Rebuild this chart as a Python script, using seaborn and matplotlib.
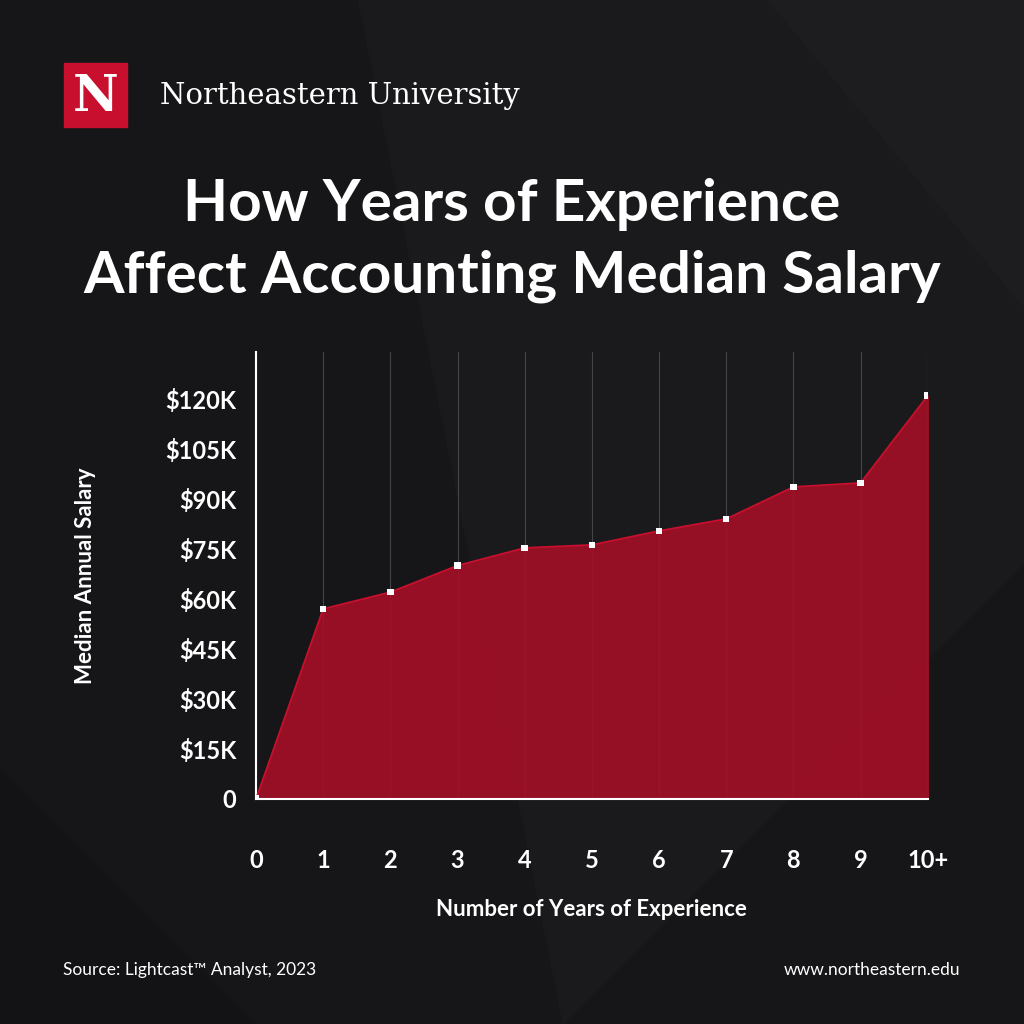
import matplotlib
matplotlib.use('Agg')
import matplotlib.pyplot as plt
import seaborn as sns
import pandas as pd
from matplotlib.patches import Rectangle, Polygon

# dados
anos = ['0', '1', '2', '3', '4', '5', '6', '7', '8', '9', '10+']
salario_k = [0, 57, 62, 70, 75.3, 76.2, 80.4, 84, 93.6, 94.8, 121]
ticks_y = [0, 15, 30, 45, 60, 75, 90, 105, 120]
rotulos_y = ['0', '$15K', '$30K', '$45K', '$60K', '$75K', '$90K', '$105K', '$120K']

df = pd.DataFrame({'pos': range(len(anos)), 'salario': salario_k})

sns.set_style('dark')
plt.rcParams['font.family'] = ['Lato', 'DejaVu Sans']

fig = plt.figure(figsize=(10.24, 10.24), dpi=100)
fig.patch.set_facecolor('#161618')

# fundo com faixas diagonais sutis
bg = fig.add_axes([0, 0, 1, 1])
bg.set_xlim(0, 1); bg.set_ylim(0, 1); bg.axis('off')
bg.add_patch(Polygon([(0.35, 1), (1, 1), (1, 0.45), (0.55, 0)], color='#1a1a1c', zorder=0))
bg.add_patch(Polygon([(0.75, 1), (1, 1), (1, 0.7)], color='#1d1d20', zorder=0))
bg.add_patch(Polygon([(0, 0.25), (0, 0), (0.25, 0)], color='#131315', zorder=0))
bg.add_patch(Rectangle((0.0625, 0.876), 0.062, 0.062, color='#c8102e'))
bg.text(0.0935, 0.905, 'N', color='white', fontsize=36, family='DejaVu Serif',
        weight='bold', ha='center', va='center')
bg.text(0.156, 0.906, 'Northeastern University', color='white', fontsize=21,
        family='DejaVu Serif', va='center')
bg.text(0.5, 0.8, 'How Years of Experience', color='white', fontsize=42,
        weight='bold', ha='center', va='center')
bg.text(0.5, 0.73, 'Affect Accounting Median Salary', color='white', fontsize=42,
        weight='bold', ha='center', va='center')
bg.text(0.062, 0.053, 'Source: Lightcast\u2122 Analyst, 2023', color='white', fontsize=12.5,
        va='center')
bg.text(0.938, 0.053, 'www.northeastern.edu', color='white', fontsize=12.5,
        ha='right', va='center')

ax = fig.add_axes([0.25, 0.22, 0.656, 0.436])
ax.set_facecolor('none')
ax.fill_between(df['pos'], df['salario'], color='#a50f27', alpha=0.9, zorder=2)
sns.lineplot(data=df, x='pos', y='salario', ax=ax, color='#c8102e', lw=1.2, zorder=3)
sns.scatterplot(data=df, x='pos', y='salario', ax=ax, color='white', marker='s',
                s=22, edgecolor='none', zorder=4)
for p in range(1, len(anos)):
    ax.axvline(p, color='#444448', lw=0.8, zorder=1)

ax.set_xlim(0, 10)
ax.set_ylim(0, 134)
ax.set_xticks(range(len(anos)))
ax.set_xticklabels(anos)
ax.set_yticks(ticks_y)
ax.set_yticklabels(rotulos_y)
ax.tick_params(colors='white', labelsize=17, length=0)
ax.tick_params(axis='x', pad=36)
ax.tick_params(axis='y', pad=14)
for lbl in ax.get_xticklabels() + ax.get_yticklabels():
    lbl.set_fontweight('bold')
ax.grid(False)
for s in ['top', 'right']:
    ax.spines[s].set_visible(False)
for s in ['left', 'bottom']:
    ax.spines[s].set_color('white')
    ax.spines[s].set_linewidth(1.5)
ax.set_xlabel('Number of Years of Experience', color='white', fontsize=16,
              weight='bold', labelpad=20)
ax.set_ylabel('Median Annual Salary', color='white', fontsize=16,
              weight='bold', labelpad=50)

fig.savefig('out.png', dpi=100, facecolor=fig.get_facecolor())
